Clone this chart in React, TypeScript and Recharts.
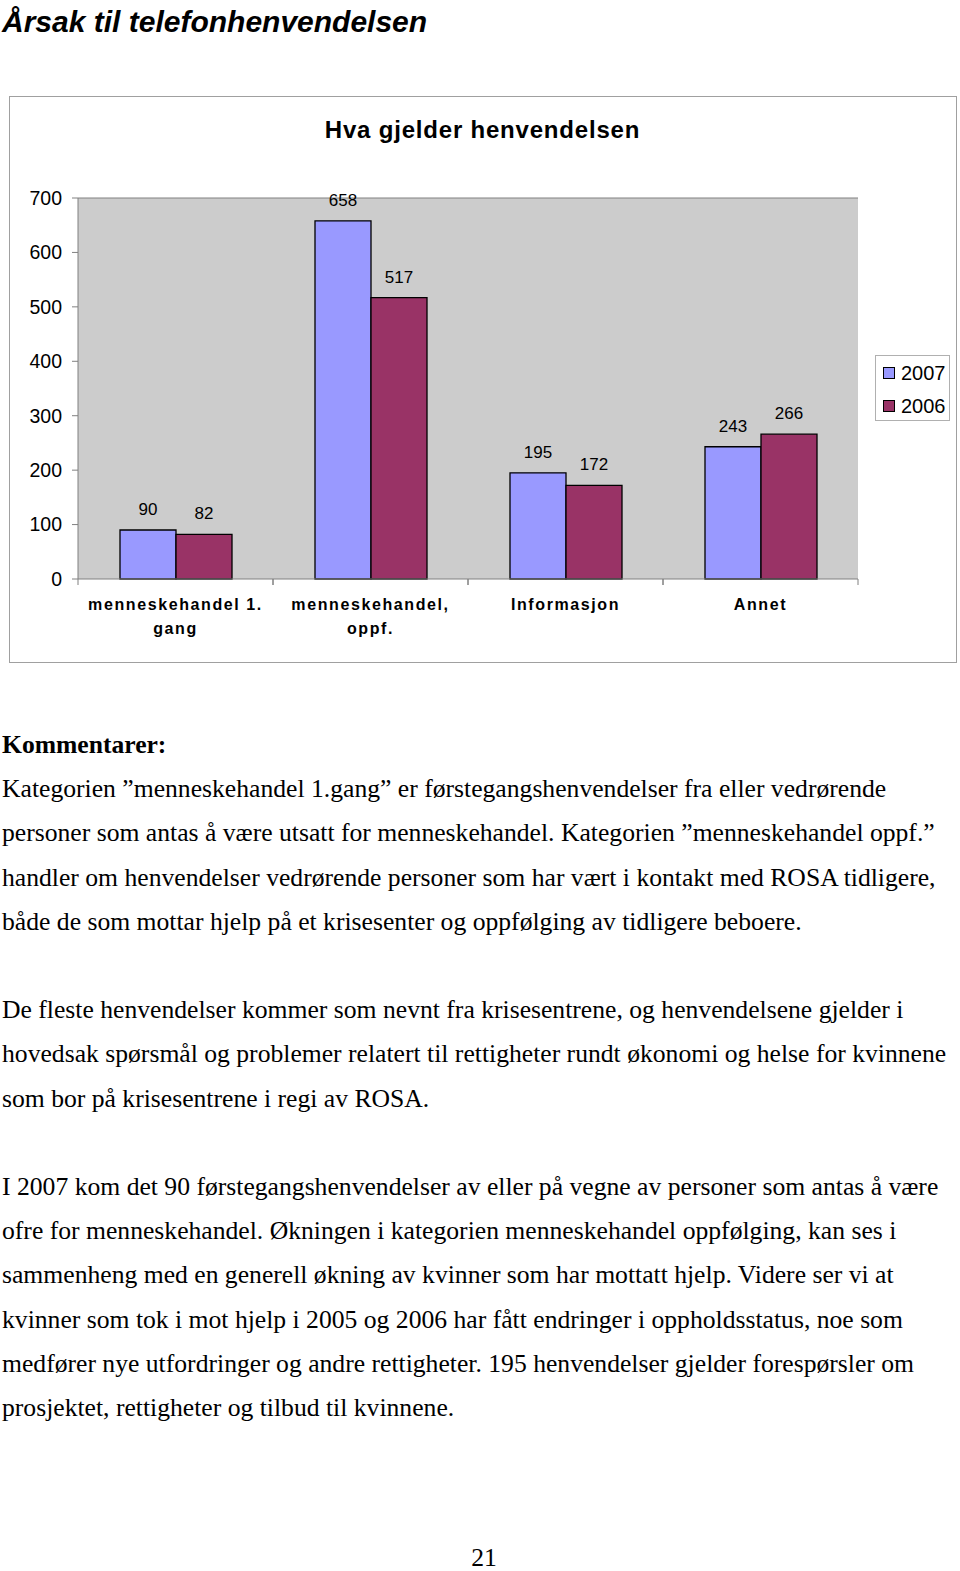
import React from 'react'
import {
  BarChart,
  Bar,
  XAxis,
  YAxis,
  CartesianGrid,
  LabelList,
  Legend,
  ReferenceLine,
} from 'recharts'

// chart data
const categories = ['menneskehandel 1.\ngang', 'menneskehandel,\noppf.', 'Informasjon', 'Annet']
const values2007 = [90, 658, 195, 243]
const values2006 = [82, 517, 172, 266]
const seriesNames = ['2007', '2006']
const yTicks = [0, 100, 200, 300, 400, 500, 600, 700]

const chartTitle = 'Hva gjelder henvendelsen'
const pageTitle = 'Årsak til telefonhenvendelsen'

const commentLines = [
  'Kategorien ”menneskehandel 1.gang” er førstegangshenvendelser fra eller vedrørende',
  'personer som antas å være utsatt for menneskehandel. Kategorien ”menneskehandel oppf.”',
  'handler om henvendelser vedrørende personer som har vært i kontakt med ROSA tidligere,',
  'både de som mottar hjelp på et krisesenter og oppfølging av tidligere beboere.',
  '',
  'De fleste henvendelser kommer som nevnt fra krisesentrene, og henvendelsene gjelder i',
  'hovedsak spørsmål og problemer relatert til rettigheter rundt økonomi og helse for kvinnene',
  'som bor på krisesentrene i regi av ROSA.',
  '',
  'I 2007 kom det 90 førstegangshenvendelser av eller på vegne av personer som antas å være',
  'ofre for menneskehandel. Økningen i kategorien menneskehandel oppfølging, kan ses i',
  'sammenheng med en generell økning av kvinner som har mottatt hjelp. Videre ser vi at',
  'kvinner som tok i mot hjelp i 2005 og 2006 har fått endringer i oppholdsstatus, noe som',
  'medfører nye utfordringer og andre rettigheter. 195 henvendelser gjelder forespørsler om',
  'prosjektet, rettigheter og tilbud til kvinnene.',
]

const data = categories.map((name, i) => ({
  name,
  y2007: values2007[i],
  y2006: values2006[i],
}))

const SANS = '"Liberation Sans", Arial, sans-serif'
const SERIF = '"Liberation Serif", "Times New Roman", serif'
const BLUE = '#9999FF'
const PLUM = '#993366'
const AXIS = '#808080'

function CategoryTick(props: any) {
  const { x, y, payload, width } = props
  const half = payload && payload.offset ? payload.offset : (width || 779) / categories.length / 2
  const lines = String(payload.value).split('\n')
  return (
    <g>
      <line x1={x - half} y1={y} x2={x - half} y2={y + 6} stroke={AXIS} />
      <line x1={x + half} y1={y} x2={x + half} y2={y + 6} stroke={AXIS} />
      {lines.map((line, i) => (
        <text
          key={i}
          x={x}
          y={y + 31 + i * 24}
          textAnchor="middle"
          fontFamily={SANS}
          fontWeight="bold"
          fontSize={16}
          letterSpacing={1.6}
          fill="#000"
        >
          {line}
        </text>
      ))}
    </g>
  )
}

function LegendBox(props: any) {
  const items = [...(props.payload || [])].sort(
    (a: any, b: any) => seriesNames.indexOf(a.value) - seriesNames.indexOf(b.value)
  )
  return (
    <div
      style={{
        width: 75,
        height: 66,
        boxSizing: 'border-box',
        border: '1px solid #b0b0b0',
        background: '#fff',
        position: 'relative',
        fontFamily: SANS,
      }}
    >
      {items.map((item: any, i: number) => (
        <div key={item.value} style={{ position: 'absolute', left: 7, top: 5 + i * 33, height: 24, display: 'flex', alignItems: 'center' }}>
          <span
            style={{
              display: 'inline-block',
              width: 10,
              height: 10,
              background: item.color,
              border: '1px solid #000',
              marginRight: 6,
            }}
          />
          <span style={{ fontSize: 20, color: '#000' }}>{item.value}</span>
        </div>
      ))}
    </div>
  )
}

function PageText() {
  return (
    <svg width={960} height={1571} style={{ position: 'absolute', left: 0, top: 0 }}>
      <text x={2} y={32} fontFamily={SANS} fontWeight="bold" fontStyle="italic" fontSize={30} fill="#000">
        {pageTitle}
      </text>
      <text x={2} y={753} fontFamily={SERIF} fontWeight="bold" fontSize={25.6} fill="#000">
        Kommentarer:
      </text>
      {commentLines.map((line, i) =>
        line ? (
          <text key={i} x={2} y={753 + (i + 1) * 44.2} fontFamily={SERIF} fontSize={25.65} fill="#000">
            {line}
          </text>
        ) : null
      )}
      <text x={484} y={1566} textAnchor="middle" fontFamily={SERIF} fontSize={25.65} fill="#000">
        21
      </text>
    </svg>
  )
}

export default function App() {
  return (
    <div style={{ position: 'absolute', left: 0, top: 0, width: 960, height: 1571, background: '#fff' }}>
      <PageText />
      <div
        style={{
          position: 'absolute',
          left: 9,
          top: 96,
          width: 948,
          height: 567,
          boxSizing: 'border-box',
          border: '1.5px solid #a0a0a0',
        }}
      />
      <div
        style={{
          position: 'absolute',
          left: 9,
          top: 114,
          width: 947,
          textAlign: 'center',
          fontFamily: SANS,
          fontWeight: 'bold',
          fontSize: 24,
          letterSpacing: 0.8,
          lineHeight: '32px',
          color: '#000',
        }}
      >
        {chartTitle}
      </div>
      <div style={{ position: 'absolute', left: 9, top: 96 }}>
        <BarChart
          width={948}
          height={566}
          data={data}
          margin={{ top: 102, right: 99, bottom: 23, left: 9 }}
          barGap={0}
        >
          <CartesianGrid yAxisId="left" horizontal={false} vertical={false} fill="#CCCCCC" fillOpacity={1} />
          <XAxis
            dataKey="name"
            height={60}
            stroke={AXIS}
            tickLine={false}
            tickSize={0}
            tickMargin={0}
            interval={0}
            tick={<CategoryTick />}
          />
          <YAxis
            yAxisId="left"
            width={60}
            domain={[0, 700]}
            ticks={yTicks}
            interval={0}
            stroke={AXIS}
            tickSize={6}
            tickMargin={10}
            tick={{ fill: '#000', fontSize: 19.5, fontFamily: SANS }}
          />
          <YAxis
            yAxisId="right"
            orientation="right"
            width={0}
            domain={[0, 700]}
            stroke={AXIS}
            tick={false}
            tickLine={false}
          />
          <ReferenceLine yAxisId="left" y={700} stroke={AXIS} />
          <Legend
            layout="horizontal"
            verticalAlign="middle"
            align="center"
            content={<LegendBox />}
            wrapperStyle={{ position: 'absolute', left: 866, top: 259, width: 75 }}
          />
          <Bar yAxisId="left" dataKey="y2007" name="2007" fill={BLUE} stroke="#000" strokeWidth={1.3} barSize={56} isAnimationActive={false}>
            <LabelList dataKey="y2007" position="top" offset={15} fill="#000" fontSize={17} fontFamily={SANS} />
          </Bar>
          <Bar yAxisId="left" dataKey="y2006" name="2006" fill={PLUM} stroke="#000" strokeWidth={1.3} barSize={56} isAnimationActive={false}>
            <LabelList dataKey="y2006" position="top" offset={15} fill="#000" fontSize={17} fontFamily={SANS} />
          </Bar>
        </BarChart>
      </div>
    </div>
  )
}
